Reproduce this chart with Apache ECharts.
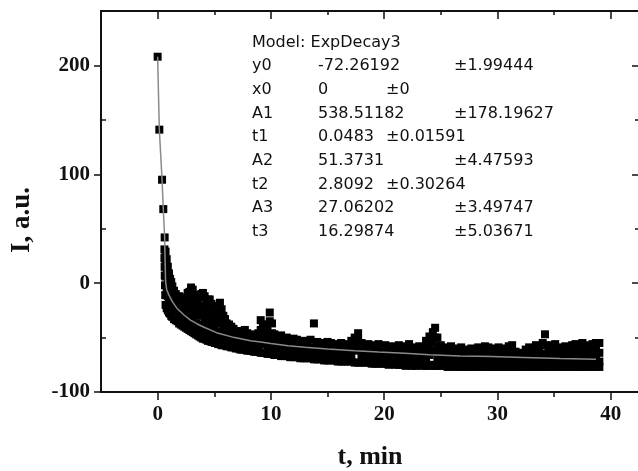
<!DOCTYPE html>
<html>
<head>
<meta charset="utf-8">
<title>ExpDecay3</title>
<script src="https://cdn.jsdelivr.net/npm/echarts@6/dist/echarts.min.js"></script>
<style>
  html, body { margin: 0; padding: 0; background: #fff; }
  #chart { width: 638px; height: 471px; }
</style>
</head>
<body>
<div id="chart"></div>
<script>
// 轴刻度
const xMajor = [0, 10, 20, 30, 40]
const xMinor = [5, 15, 25, 35]
const yMajor = [-100, 0, 100, 200]
const yMinor = [-50, 50, 150]

// 起始陡降段的点
const headT = [0, 0.15, 0.39, 0.5, 0.62, 0.6, 0.6, 0.62, 0.63, 0.65, 0.67]
const headI = [208, 141, 95, 68, 42, 31, 23, 15, 7, -2, -11]

// 带状散点：每个时间点读了上、中上、中下、下四个点
const bandT = [
  0.7, 0.8, 0.9, 1.0, 1.1, 1.2, 1.3, 1.45, 1.6, 1.75,
  1.9, 2.05, 2.2, 2.35, 2.5, 2.65, 2.8, 2.95, 3.1, 3.25,
  3.4, 3.55, 3.7, 3.85, 4.0, 4.15, 4.3, 4.45, 4.6, 4.75,
  4.9, 5.05, 5.2, 5.35, 5.5, 5.65, 5.8, 5.95, 6.1, 6.3,
  6.5, 6.7, 6.9, 7.1, 7.3, 7.5, 7.7, 7.9, 8.1, 8.3,
  8.5, 8.7, 8.9, 9.1, 9.3, 9.5, 9.7, 9.9, 10.1, 10.3,
  10.5, 10.7, 10.9, 11.1, 11.4, 11.7, 12.0, 12.3, 12.6, 12.9,
  13.2, 13.5, 13.8, 14.1, 14.4, 14.7, 15.0, 15.3, 15.6, 15.9,
  16.2, 16.5, 16.8, 17.1, 17.4, 17.7, 18.0, 18.3, 18.6, 18.9,
  19.2, 19.5, 19.8, 20.1, 20.4, 20.7, 21.0, 21.3, 21.6, 21.9,
  22.2, 22.5, 22.8, 23.1, 23.4, 23.7, 24.0, 24.3, 24.5, 24.7,
  25.0, 25.3, 25.6, 25.9, 26.2, 26.5, 26.8, 27.1, 27.4, 27.7,
  28.0, 28.3, 28.6, 28.9, 29.2, 29.5, 29.8, 30.1, 30.4, 30.7,
  31.0, 31.3, 31.6, 31.9, 32.2, 32.5, 32.8, 33.1, 33.4, 33.7,
  34.0, 34.2, 34.5, 34.8, 35.1, 35.4, 35.7, 36.0, 36.3, 36.6,
  36.9, 37.2, 37.5, 37.8, 38.1, 38.4, 38.7, 39.0,
]
const bandHi = [
  29, 22, 15, 9, 4, 1, -3, -7, -10, -13,
  -12, -14, -15, -17, -13, -9, -8, -4, -6, -11,
  -14, -17, -13, -10, -9, -12, -17, -15, -15, -19,
  -22, -23, -25, -21, -18, -24, -30, -33, -37, -38,
  -40, -42, -44, -45, -46, -44, -43, -46, -48, -47,
  -49, -48, -46, -34, -38, -38, -44, -27, -37, -47,
  -49, -50, -48, -51, -50, -53, -51, -52, -54, -53,
  -55, -52, -37, -54, -55, -56, -54, -55, -57, -56,
  -55, -57, -56, -53, -50, -46, -55, -57, -56, -58,
  -57, -56, -58, -57, -59, -58, -59, -57, -60, -58,
  -56, -59, -60, -58, -59, -53, -49, -45, -41, -50,
  -57, -59, -60, -58, -60, -61, -59, -61, -62, -60,
  -61, -59, -62, -58, -59, -60, -61, -59, -62, -60,
  -58, -57, -63, -65, -64, -61, -59, -60, -57, -58,
  -55, -47, -59, -57, -56, -59, -60, -58, -60, -57,
  -56, -58, -55, -58, -57, -56, -55, -55,
]
const bandMidHi = [
  17, 9, -12, -18, -4, -19, -9, -23, -16, -27,
  -19, -30, -22, -32, -22, -18, -22, -13, -18, -24,
  -37, -28, -21, -25, -38, -23, -30, -41, -26, -32,
  -44, -32, -36, -47, -30, -37, -49, -40, -45, -51,
  -46, -54, -48, -55, -50, -56, -49, -57, -52, -58,
  -53, -59, -52, -43, -47, -44, -51, -35, -46, -60,
  -63, -61, -54, -62, -56, -63, -57, -64, -58, -65,
  -60, -65, -65, -59, -66, -61, -67, -61, -67, -62,
  -68, -62, -68, -60, -56, -52, -61, -69, -62, -69,
  -70, -68, -63, -70, -63, -69, -64, -71, -65, -70,
  -62, -71, -65, -62, -70, -61, -57, -54, -63, -59,
  -70, -64, -72, -71, -65, -72, -64, -73, -67, -71,
  -65, -72, -67, -64, -71, -65, -73, -65, -72, -65,
  -63, -64, -73, -74, -73, -66, -72, -66, -63, -65,
  -71, -66, -65, -63, -63, -72, -65, -72, -66, -63,
  -72, -65, -62, -64, -72, -63, -61, -64,
]
const bandMidLo = [
  6, -4, 2, -8, -14, -6, -18, -12, -22, -17,
  -26, -21, -29, -24, -32, -27, -35, -22, -31, -38,
  -26, -40, -30, -42, -24, -35, -44, -29, -38, -46,
  -33, -42, -48, -36, -45, -50, -40, -47, -51, -44,
  -52, -48, -53, -50, -54, -51, -55, -52, -56, -53,
  -57, -54, -58, -52, -56, -50, -58, -53, -57, -54,
  -59, -56, -60, -57, -61, -58, -62, -59, -63, -60,
  -64, -61, -59, -64, -61, -65, -62, -66, -63, -67,
  -64, -68, -63, -66, -62, -58, -67, -64, -68, -63,
  -66, -62, -69, -65, -67, -63, -69, -66, -70, -64,
  -68, -65, -70, -67, -63, -69, -66, -62, -50, -68,
  -64, -70, -67, -65, -71, -66, -70, -68, -72, -66,
  -70, -67, -72, -69, -65, -71, -68, -72, -66, -70,
  -68, -73, -69, -71, -70, -72, -67, -73, -69, -72,
  -65, -57, -71, -68, -73, -66, -70, -67, -72, -69,
  -66, -73, -68, -71, -65, -70, -67, -72,
]
const bandLo = [
  -20, -23, -25, -27, -28, -30, -31, -33, -34, -35,
  -37, -38, -39, -40, -41, -42, -43, -44, -45, -46,
  -47, -48, -49, -50, -51, -51, -52, -53, -53, -54,
  -54, -55, -55, -56, -56, -57, -57, -57, -58, -58,
  -59, -59, -60, -60, -61, -61, -61, -62, -62, -62,
  -63, -63, -63, -64, -64, -64, -65, -65, -65, -66,
  -66, -66, -67, -67, -67, -68, -68, -68, -69, -69,
  -69, -69, -70, -70, -70, -71, -71, -71, -71, -72,
  -72, -72, -72, -72, -73, -73, -73, -73, -73, -74,
  -74, -74, -74, -74, -75, -74, -75, -75, -75, -76,
  -75, -76, -76, -75, -76, -76, -76, -75, -76, -76,
  -76, -76, -77, -76, -77, -76, -77, -77, -77, -76,
  -77, -77, -77, -76, -77, -77, -77, -77, -77, -77,
  -77, -77, -77, -77, -77, -76, -77, -77, -76, -77,
  -77, -76, -77, -76, -77, -77, -76, -77, -77, -76,
  -77, -77, -77, -76, -77, -77, -76, -77,
]

// 拟合曲线
const fitT = [0, 0.15, 0.39, 0.5, 0.62, 0.66, 0.7, 0.8, 1.0, 1.3, 1.7, 2.3, 2.9, 3.5, 4.1, 5.2,
  6.7, 8.2, 9.1, 10, 11.5, 13, 15, 17.4, 19.5, 21.8, 24, 26.7, 29.5, 32.3, 35.5, 38.7]
const fitI = [208, 141, 95, 68, 42, 20, 2, -6, -11, -17, -23, -29, -34, -37.5, -40.5, -45.5,
  -49.8, -52.9, -54, -55.5, -57.5, -59, -60.5, -62.1, -63.3, -64.5, -65.7, -67, -67.5, -68.3, -69.3, -69.8]

// 拟合参数表
const modelName = 'Model: ExpDecay3'
const paramNames = ['y0', 'x0', 'A1', 't1', 'A2', 't2', 'A3', 't3']
const paramValues = ['-72.26192', '0', '538.51182', '0.0483', '51.3731', '2.8092', '27.06202', '16.29874']
const paramErrors = ['±1.99444', '±0', '±178.19627', '±0.01591', '±4.47593', '±0.30264', '±3.49747', '±5.03671']

const points = []
headT.forEach((t, i) => points.push([t, headI[i]]))
bandT.forEach((t, i) => {
  points.push([t, bandHi[i]])
  points.push([t, bandMidHi[i]])
  points.push([t, bandMidLo[i]])
  points.push([t, bandLo[i]])
})
const fitLine = fitT.map((t, i) => [t, fitI[i]])

const ink = '#111'
const tickFont = { color: ink, fontFamily: 'Liberation Serif', fontWeight: 'bold', fontSize: 21 }
const noteFont = '16px "DejaVu Sans"'

// 生成一条只负责画刻度的轴
function tickAxis(dim, position, values, length, inside, showLine) {
  const range = dim === 'x' ? { min: -5, max: 42.5 } : { min: -100, max: 250 }
  return {
    type: 'value',
    position,
    ...range,
    axisLine: { show: showLine, onZero: false, lineStyle: { color: ink, width: 2 } },
    axisTick: { show: true, inside, length, customValues: values, lineStyle: { color: ink, width: 1.5 } },
    minorTick: { show: false },
    axisLabel: { show: false },
    splitLine: { show: false },
  }
}

const xBottom = tickAxis('x', 'bottom', xMajor, 8, false, true)
xBottom.axisLabel = { show: true, customValues: xMajor, margin: 12, ...tickFont }
xBottom.name = 't, min'
xBottom.nameLocation = 'middle'
xBottom.nameGap = 52
xBottom.nameTextStyle = { color: ink, fontFamily: 'Liberation Serif', fontWeight: 'bold', fontSize: 26 }

const yLeft = tickAxis('y', 'left', yMajor, 7, false, true)
yLeft.axisLabel = { show: true, customValues: yMajor, margin: 11, ...tickFont }

const graphics = [
  {
    type: 'text',
    x: 22,
    y: 220,
    rotation: Math.PI / 2,
    style: { text: 'I, a.u.', fill: ink, font: 'bold 27px "Liberation Serif"', align: 'center', verticalAlign: 'middle' },
  },
  {
    type: 'text',
    x: 252,
    y: 43,
    style: { text: modelName, fill: ink, font: noteFont, verticalAlign: 'middle' },
  },
]
paramNames.forEach((name, i) => {
  const y = 66 + i * 23.7
  // x0、t1、t2 的误差紧跟在数值后面
  const errX = (name === 'x0' || name === 't1' || name === 't2') ? 386 : 454
  graphics.push(
    { type: 'text', x: 252, y, style: { text: name, fill: ink, font: noteFont, verticalAlign: 'middle' } },
    { type: 'text', x: 318, y, style: { text: paramValues[i], fill: ink, font: noteFont, verticalAlign: 'middle' } },
    { type: 'text', x: errX, y, style: { text: paramErrors[i], fill: ink, font: noteFont, verticalAlign: 'middle' } },
  )
})

const chartOptions = {
  animation: false,
  backgroundColor: '#fff',
  grid: { left: 101, right: -1, top: 11, bottom: 79, containLabel: false, outerBoundsMode: 'none' },
  xAxis: [
    xBottom,
    tickAxis('x', 'bottom', xMinor, 5, false, false),
    tickAxis('x', 'top', xMajor, 8, true, true),
    tickAxis('x', 'top', xMinor, 4, true, false),
  ],
  yAxis: [
    yLeft,
    tickAxis('y', 'left', yMinor, 5, true, false),
    tickAxis('y', 'right', yMajor, 7, true, true),
    tickAxis('y', 'right', yMinor, 4, true, false),
  ],
  series: [
    // 实验数据点
    {
      type: 'scatter',
      xAxisIndex: 0,
      yAxisIndex: 0,
      symbol: 'rect',
      symbolSize: 8,
      itemStyle: { color: '#000', opacity: 1 },
      data: points,
      z: 2,
    },
    // 拟合曲线
    {
      type: 'line',
      xAxisIndex: 0,
      yAxisIndex: 0,
      showSymbol: false,
      symbol: 'none',
      lineStyle: { color: '#8a8a8a', width: 1.5 },
      data: fitLine,
      z: 3,
    },
  ],
  graphic: graphics,
}

const chartInstance = echarts.init(document.getElementById('chart'))
chartInstance.setOption(chartOptions)
</script>
</body>
</html>
